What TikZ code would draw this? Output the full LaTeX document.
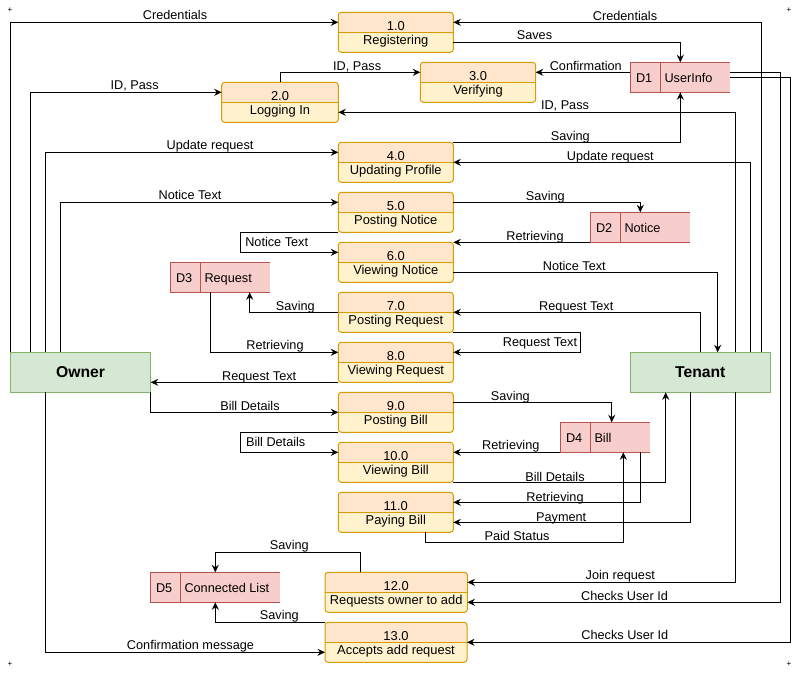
\documentclass[tikz,border=0pt]{standalone}
\usepackage{fontspec}
\setmainfont{Liberation Sans}
\usetikzlibrary{arrows.meta}
\definecolor{pTop}{HTML}{FFE6CC}
\definecolor{pBot}{HTML}{FFF2CC}
\definecolor{pLine}{HTML}{D79B00}
\definecolor{dFill}{HTML}{F8CECC}
\definecolor{dLine}{HTML}{B85450}
\definecolor{eFill}{HTML}{D5E8D4}
\definecolor{eLine}{HTML}{82B366}
\tikzset{
  procbox/.style={draw=pLine, fill=pBot, rounded corners=3pt, line width=1pt,
    minimum height=40pt, inner sep=0pt, outer sep=0pt,
    path picture={\fill[pTop] (path picture bounding box.north west) rectangle (path picture bounding box.east);
      \draw[pLine, line width=1pt] (path picture bounding box.west) -- (path picture bounding box.east);}},
  ptext/.style={anchor=base, inner sep=0pt, font=\fontsize{12.9}{15}\selectfont},
  storebox/.style={fill=dFill, draw=none, minimum height=30pt, inner sep=0pt, outer sep=0pt},
  storeline/.style={draw=dLine, line width=1pt},
  dtext/.style={anchor=base west, inner sep=0pt, font=\fontsize{12.7}{15}\selectfont},
  entbox/.style={draw=eLine, fill=eFill, line width=1pt, minimum height=40pt, minimum width=140pt,
    inner sep=0pt, outer sep=0pt, font=\bfseries\fontsize{15.7}{18}\selectfont},
  lbl/.style={anchor=base, inner sep=0pt, font=\fontsize{12.7}{15}\selectfont},
  flow/.style={draw=black, line width=1pt, -{Stealth[length=7.5pt,width=7pt,inset=2.5pt]}},
  plusmark/.style={inner sep=0pt, font=\fontsize{8}{9}\selectfont}
}
\newcommand{\procbox}[6]{%
  \node[procbox, minimum width=#4] (#1) at (#2,#3) {};
  \node[ptext] (#1-n) at ([yshift=2.2pt]#1.center) {#5};
  \node[ptext] (#1-t) at ([yshift=-12.3pt]#1.center) {#6};
}
\newcommand{\storebox}[6]{%
  \node[storebox, minimum width=#4] (#1) at (#2,#3) {};
  \draw[storeline] (#1.north east) -- (#1.north west) -- (#1.south west) -- (#1.south east);
  \draw[storeline] ([xshift=30pt]#1.north west) -- ([xshift=30pt]#1.south west);
  \node[dtext] (#1-id) at ([xshift=5.5pt,yshift=-5.2pt]#1.west) {#5};
  \node[dtext] (#1-lb) at ([xshift=34pt,yshift=-5.2pt]#1.west) {#6};
}
\begin{document}
\begin{tikzpicture}[x=1pt,y=-1pt]
\useasboundingbox (0,0) rectangle (802,675);
\fill[white] (0,0) rectangle (802,675);

% corner marks
\node[plusmark] (m1) at (10,10) {+};
\node[plusmark] (m2) at (789,10) {+};
\node[plusmark] (m3) at (10,664) {+};
\node[plusmark] (m4) at (789,664) {+};

% processes
\procbox{p1}{395.8}{32.3}{115}{1.0}{Registering}
\procbox{p2}{280}{102.3}{116.6}{2.0}{Logging In}
\procbox{p3}{478}{82.3}{115.4}{3.0}{Verifying}
\procbox{p4}{395.8}{162.3}{115}{4.0}{Updating Profile}
\procbox{p5}{395.8}{212.3}{115}{5.0}{Posting Notice}
\procbox{p6}{395.8}{262.3}{115}{6.0}{Viewing Notice}
\procbox{p7}{395.8}{312.3}{115}{7.0}{Posting Request}
\procbox{p8}{395.8}{362.3}{115}{8.0}{Viewing Request}
\procbox{p9}{395.8}{412.3}{115}{9.0}{Posting Bill}
\procbox{p10}{395.8}{462.3}{115}{10.0}{Viewing Bill}
\procbox{p11}{395.8}{512.3}{115}{11.0}{Paying Bill}
\procbox{p12}{396.2}{592.3}{142.4}{12.0}{Requests owner to add}
\procbox{p13}{396}{642.3}{142}{13.0}{Accepts add request}

% data stores
\storebox{d1}{680.3}{77.3}{100}{D1}{UserInfo}
\storebox{d2}{640.3}{227.3}{100}{D2}{Notice}
\storebox{d3}{220.3}{277.3}{100}{D3}{Request}
\storebox{d4}{605.3}{437.3}{90}{D4}{Bill}
\storebox{d5}{215.3}{587.3}{130}{D5}{Connected List}

% entities
\node[entbox, minimum width=140.4pt] (owner) at (80.5,372.3) {Owner};
\node[entbox] (tenant) at (700.3,372.3) {Tenant};

% connectors
\draw[flow] ([xshift=0.4pt]owner.north west) |- ([yshift=10pt]p1.west);
\draw[flow] ([xshift=20.4pt]owner.north west) |- ([yshift=10pt]p2.west);
\draw[flow] ([xshift=35pt]owner.north west) |- ([yshift=10pt]p4.west);
\draw[flow] ([xshift=50pt]owner.north west) |- ([yshift=10pt]p5.west);
\draw[flow] ([xshift=35pt]owner.south west) |- ([yshift=-10pt]p13.west);
\draw[flow] (p5.south west) -- ++(-97.6,0) |- ([yshift=10pt]p6.west);
\draw[flow] ([yshift=10pt]p5.east) -| (d2.north);
\draw[flow] (d2.south west) -- (p6.north east);
\draw[flow] ([yshift=-10pt]p6.east) -| ([xshift=17.4pt]tenant.north);
\draw[flow] (tenant.north) |- (p7.east);
\draw[flow] (p7.west) -| ([xshift=29.4pt]d3.south);
\draw[flow] (p7.south east) -- ++(127,0) |- ([yshift=10pt]p8.east);
\draw[flow] ([xshift=-10pt]d3.south) |- ([yshift=10pt]p8.west);
\draw[flow] (p8.south west) -- ([yshift=-10pt]owner.east);
\draw[flow] (owner.south east) |- (p9.west);
\draw[flow] (p9.south west) -- ++(-97.6,0) |- ([yshift=10pt]p10.west);
\draw[flow] ([yshift=10pt]p9.east) -| ([xshift=6.4pt]d4.north);
\draw[flow] (d4.south west) -- ([yshift=10pt]p10.east);
\draw[flow] (p10.south east) -| ([xshift=-34.6pt]tenant.south);
\draw[flow] ([xshift=35pt]d4.south) |- ([yshift=10pt]p11.east);
\draw[flow] ([xshift=-9.6pt]tenant.south) |- ([yshift=-10pt]p11.east);
\draw[flow] ([xshift=29.2pt]p11.south) -- ++(0,10) -| ([xshift=18pt]d4.south);
\draw[flow] ([xshift=35pt]tenant.south) |- ([yshift=10pt]p12.east);
\draw[flow] ([yshift=5pt]d1.east) -- ++(50,0) |- ([yshift=-10pt]p12.east);
\draw[flow] (d1.east) -- ++(60,0) |- (p13.east);
\draw[flow] ([xshift=-35.5pt]p12.north) -- ++(0,-20) -| (d5.north);
\draw[flow] (p13.north west) -| (d5.south);
\draw[flow] ([xshift=61pt]tenant.north) |- ([yshift=10pt]p1.east);
\draw[flow] ([yshift=-10pt]p1.east) -| (d1.north);
\draw[flow] ([yshift=5pt]d1.west) -- ([yshift=10pt]p3.east);
\draw[flow] (p2.north) |- ([yshift=10pt]p3.west);
\draw[flow] ([xshift=35pt]tenant.north) |- ([yshift=-10pt]p2.east);
\draw[flow] (p4.north east) -| (d1.south);
\draw[flow] ([xshift=50pt]tenant.north) |- (p4.east);

% labels
\node[lbl] (l1) at (175,19.5) {Credentials};
\node[lbl] (l2) at (134.7,89.3) {ID, Pass};
\node[lbl] (l3) at (210,149) {Update request};
\node[lbl] (l4) at (190,199.5) {Notice Text};
\node[lbl] (l5) at (276.7,246.8) {Notice Text};
\node[lbl] (l6) at (295.3,310) {Saving};
\node[lbl] (l7) at (275,349) {Retrieving};
\node[lbl] (l8) at (259.2,380.5) {Request Text};
\node[lbl] (l9) at (250,410) {Bill Details};
\node[lbl] (l10) at (275.7,446.8) {Bill Details};
\node[lbl] (l11) at (289.3,549) {Saving};
\node[lbl] (l12) at (279.3,619.5) {Saving};
\node[lbl] (l13) at (190.5,649) {Confirmation message};
\node[lbl] (l14) at (357.2,70) {ID, Pass};
\node[lbl] (l15) at (625,20) {Credentials};
\node[lbl] (l16) at (534.5,39.3) {Saves};
\node[lbl] (l17) at (585.8,70) {Confirmation};
\node[lbl] (l18) at (565,109) {ID, Pass};
\node[lbl] (l19) at (570.3,140) {Saving};
\node[lbl] (l20) at (610.3,160) {Update request};
\node[lbl] (l21) at (545.3,200) {Saving};
\node[lbl] (l22) at (535,240) {Retrieving};
\node[lbl] (l23) at (574.3,270) {Notice Text};
\node[lbl] (l24) at (576.3,310) {Request Text};
\node[lbl] (l25) at (540,346.8) {Request Text};
\node[lbl] (l26) at (510.3,400) {Saving};
\node[lbl] (l27) at (510.8,449.3) {Retrieving};
\node[lbl] (l28) at (555,481) {Bill Details};
\node[lbl] (l29) at (555,501) {Retrieving};
\node[lbl] (l30) at (561.2,521) {Payment};
\node[lbl] (l31) at (517,540) {Paid Status};
\node[lbl] (l32) at (620.3,579.5) {Join request};
\node[lbl] (l33) at (624.5,600) {Checks User Id};
\node[lbl] (l34) at (624.8,639.5) {Checks User Id};
\end{tikzpicture}
\end{document}
